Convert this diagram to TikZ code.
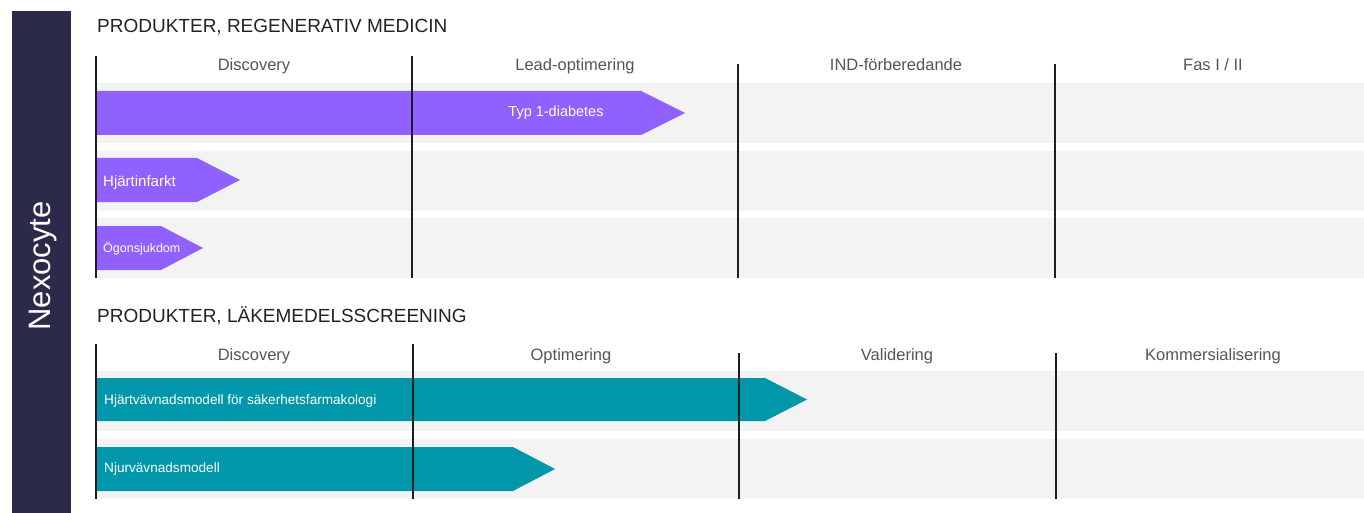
\documentclass[tikz,border=0pt]{standalone}
\usepackage{fontspec}
\setmainfont{Liberation Sans}
\definecolor{nxnavy}{RGB}{43,42,74}
\definecolor{nxpurple}{RGB}{145,97,255}
\definecolor{nxteal}{RGB}{0,151,170}
\definecolor{nxrow}{RGB}{243,243,243}
\definecolor{nxline}{RGB}{30,30,30}
\definecolor{nxtext}{RGB}{34,34,34}
\definecolor{nxphase}{RGB}{85,85,85}

\begin{document}
\begin{tikzpicture}[x=1pt,y=-1pt,
  head/.style={anchor=base west,inner sep=0pt,text=nxtext,
    font=\fontsize{19}{22}\selectfont},
  phase/.style={anchor=base,inner sep=0pt,text=nxphase,
    font=\fontsize{16.5}{19}\selectfont},
  lbl/.style={anchor=base west,inner sep=0pt,text=white,
    font=\fontsize{14.5}{17}\selectfont},
  row/.style={fill=nxrow},
  sep/.style={draw=nxline,line width=1.4pt}
]
  % page and sidebar
  \fill[white] (0,0) rectangle (1364,513);
  \useasboundingbox (0,0) rectangle (1364,513);
  \fill[nxnavy] (12,11) rectangle (71,513);
  \node[rotate=90,text=white,font=\fontsize{31}{35}\selectfont] (brand) at (43,266) {Nexocyte};

  % Regenerativ medicin
  \node[head] (head1) at (97,33) {PRODUKTER, REGENERATIV MEDICIN};
  \foreach \y in {83,151,218}
    \fill[row] (96,\y) rectangle (1364,\y+60);
  \fill[nxpurple] (96,91) -- (641,91) -- (685,113) -- (641,135) -- (96,135) -- cycle;
  \fill[nxpurple] (96,158) -- (197,158) -- (240,180) -- (197,202) -- (96,202) -- cycle;
  \fill[nxpurple] (96,226) -- (161,226) -- (203,248) -- (161,270) -- (96,270) -- cycle;
  \node[lbl,anchor=base] (diab) at (556,117) {Typ 1-diabetes};
  \node[lbl,font=\fontsize{15}{18}\selectfont] (infarkt) at (103,186) {Hjärtinfarkt};
  \node[lbl,font=\fontsize{12.5}{15}\selectfont] (ogon) at (103,252) {Ögonsjukdom};
  \draw[sep] (96,56) -- (96,278);
  \draw[sep] (412,56) -- (412,278);
  \draw[sep] (738,64) -- (738,278);
  \draw[sep] (1055,64) -- (1055,278);
  \node[phase] (ph1a) at (254,71) {Discovery};
  \node[phase] (ph1b) at (575,71) {Lead-optimering};
  \node[phase] (ph1c) at (896,71) {IND-förberedande};
  \node[phase] (ph1d) at (1213,71) {Fas I / II};

  % Läkemedelsscreening
  \node[head] (head2) at (97,322) {PRODUKTER, LÄKEMEDELSSCREENING};
  \foreach \y in {371,439}
    \fill[row] (96,\y) rectangle (1364,\y+60);
  \fill[nxteal] (96,378) -- (765,378) -- (807,399.5) -- (765,421) -- (96,421) -- cycle;
  \fill[nxteal] (96,447) -- (513,447) -- (555,469) -- (513,491) -- (96,491) -- cycle;
  \node[lbl,font=\fontsize{13.6}{16}\selectfont] (hjart) at (104,404) {Hjärtvävnadsmodell för säkerhetsfarmakologi};
  \node[lbl,font=\fontsize{13.6}{16}\selectfont] (njur) at (104,472) {Njurvävnadsmodell};
  \draw[sep] (96,344) -- (96,499);
  \draw[sep] (413,344) -- (413,499);
  \draw[sep] (739,353) -- (739,499);
  \draw[sep] (1056,353) -- (1056,499);
  \node[phase] (ph2a) at (254,360) {Discovery};
  \node[phase] (ph2b) at (571,360) {Optimering};
  \node[phase] (ph2c) at (897,360) {Validering};
  \node[phase] (ph2d) at (1213,360) {Kommersialisering};
\end{tikzpicture}
\end{document}
